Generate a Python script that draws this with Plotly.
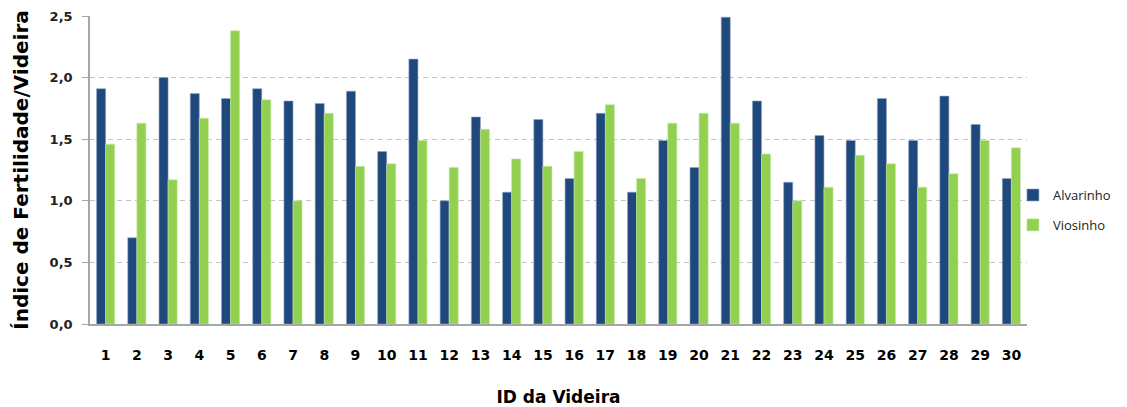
import plotly.graph_objects as go

ids = [str(i) for i in range(1, 31)]
alvarinho = [1.91, 0.70, 2.00, 1.87, 1.83, 1.91, 1.81, 1.79, 1.89, 1.40,
             2.15, 1.00, 1.68, 1.07, 1.66, 1.18, 1.71, 1.07, 1.49, 1.27,
             2.49, 1.81, 1.15, 1.53, 1.49, 1.83, 1.49, 1.85, 1.62, 1.18]
viosinho = [1.46, 1.63, 1.17, 1.67, 2.38, 1.82, 1.00, 1.71, 1.28, 1.30,
            1.49, 1.27, 1.58, 1.34, 1.28, 1.40, 1.78, 1.18, 1.63, 1.71,
            1.63, 1.38, 1.00, 1.11, 1.37, 1.30, 1.11, 1.22, 1.49, 1.43]
y_ticks = [0, 0.5, 1.0, 1.5, 2.0, 2.5]
y_tick_labels = ["0,0", "0,5", "1,0", "1,5", "2,0", "2,5"]

fig = go.Figure()
fig.add_trace(go.Bar(x=ids, y=alvarinho, name="Alvarinho", legendgroup="a",
                     marker=dict(color="#1F497D", line=dict(color="#8EA4C2", width=0.6))))
fig.add_trace(go.Bar(x=ids, y=viosinho, name="Viosinho", legendgroup="v",
                     marker=dict(color="#92D050", line=dict(color="#C6E8A6", width=0.6))))

fig.update_layout(
    width=1119, height=399,
    margin=dict(l=82, r=100, t=8, b=83, autoexpand=False),
    paper_bgcolor="white", plot_bgcolor="white",
    barmode="group", bargap=0.42, bargroupgap=0,
    font=dict(family="DejaVu Sans", color="#000000"),
    showlegend=True,
    legend=dict(x=0.985, xanchor="left", y=0.37, yanchor="middle",
                traceorder="grouped", tracegroupgap=10, itemwidth=30,
                font=dict(family="Open Sans", size=13, color="#222222"),
                bgcolor="rgba(0,0,0,0)"),
    xaxis=dict(
        type="category", showgrid=False, showline=True, linecolor="#A6A6A6", linewidth=1.5,
        ticks="", ticklabelstandoff=17, automargin=False,
        tickfont=dict(family="DejaVu Sans", size=14, color="#000000", weight="bold"),
        title=dict(text="ID da Videira", standoff=32,
                   font=dict(family="DejaVu Sans", size=17, color="#000000", weight="bold")),
    ),
    yaxis=dict(
        range=[0, 2.5], tickvals=y_ticks, ticktext=y_tick_labels,
        showgrid=True, gridcolor="#C4C4C4", griddash="5px,4px", gridwidth=1,
        showline=True, linecolor="#A6A6A6", linewidth=1.5,
        ticks="outside", ticklen=6, tickcolor="#A6A6A6",
        ticklabelstandoff=7, automargin=False,
        zeroline=False,
        tickfont=dict(family="DejaVu Sans", size=13, color="#222222", weight="bold"),
        title=dict(text="Índice de Fertilidade/Videira", standoff=16,
                   font=dict(family="DejaVu Sans", size=20, color="#000000", weight="bold")),
    ),
)

fig.write_html("out.html")
